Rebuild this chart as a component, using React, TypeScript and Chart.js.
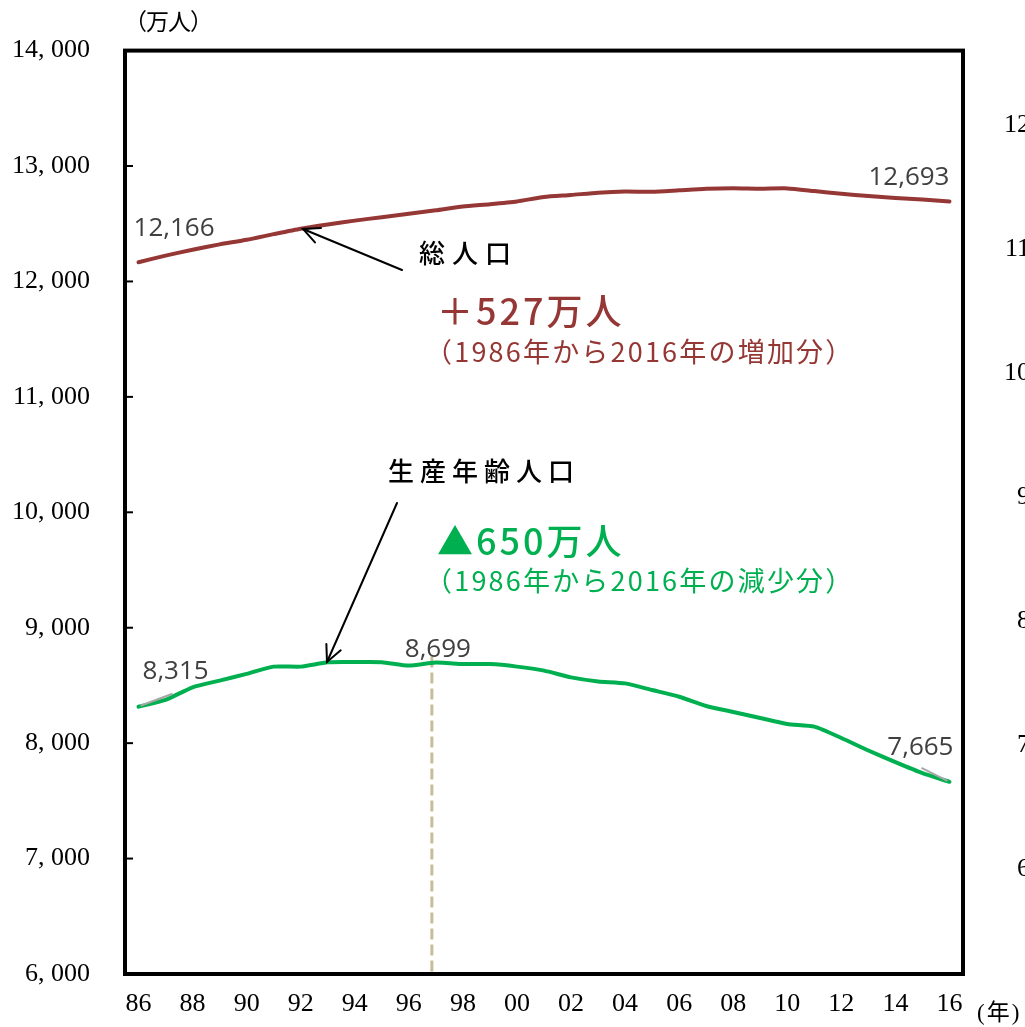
import React, { useEffect, useRef } from "react";
import { Chart, registerables } from "chart.js";

Chart.register(...registerables);

// ---- data ----
const years = [
  "1986", "1987", "1988", "1989", "1990", "1991", "1992", "1993", "1994", "1995",
  "1996", "1997", "1998", "1999", "2000", "2001", "2002", "2003", "2004", "2005",
  "2006", "2007", "2008", "2009", "2010", "2011", "2012", "2013", "2014", "2015", "2016",
];
const xTickLabels = [
  "86", "", "88", "", "90", "", "92", "", "94", "", "96", "", "98", "", "00", "",
  "02", "", "04", "", "06", "", "08", "", "10", "", "12", "", "14", "", "16",
];
const totalPopulation = [
  12166, 12224, 12275, 12321, 12361, 12410, 12457, 12494, 12527, 12557,
  12586, 12616, 12649, 12669, 12693, 12732, 12749, 12769, 12779, 12777,
  12790, 12803, 12808, 12803, 12806, 12783, 12759, 12741, 12724, 12709, 12693,
];
const workingAgePopulation = [
  8315, 8375, 8484, 8542, 8600, 8663, 8663, 8700, 8702, 8701,
  8672, 8699, 8685, 8685, 8663, 8628, 8570, 8535, 8518, 8460,
  8402, 8322, 8270, 8218, 8166, 8143, 8045, 7936, 7835, 7740, 7665,
];
const yTicksMin = 6000;
const yTicksMax = 14000;
const yTickStep = 1000;
const rightCutLabels = ["12, 000", "11, 000", "10, 000", "9, 000", "8, 000", "7, 000", "6, 000"];

const RED = "#953735";
const GREEN = "#00B050";
const SERIF = '"Liberation Serif", "Noto Sans CJK JP", serif';
const CJK = '"Noto Sans CJK JP", "Noto Sans", sans-serif';
const LABELFONT = '"Open Sans", "Noto Sans", sans-serif';

const fmtAxis = (v: number) => {
  const s = Math.round(v).toLocaleString("en-US");
  return s.replace(",", ", ");
};
const fmtData = (v: number) => Math.round(v).toLocaleString("en-US");

function arrow(ctx: CanvasRenderingContext2D, x1: number, y1: number, x2: number, y2: number) {
  ctx.save();
  ctx.strokeStyle = "#000";
  ctx.lineWidth = 2;
  ctx.lineCap = "round";
  ctx.beginPath();
  ctx.moveTo(x1, y1);
  ctx.lineTo(x2, y2);
  ctx.stroke();
  const ang = Math.atan2(y1 - y2, x1 - x2);
  const len = 18;
  const spread = 0.45;
  ctx.beginPath();
  ctx.moveTo(x2 + len * Math.cos(ang + spread), y2 + len * Math.sin(ang + spread));
  ctx.lineTo(x2, y2);
  ctx.lineTo(x2 + len * Math.cos(ang - spread), y2 + len * Math.sin(ang - spread));
  ctx.stroke();
  ctx.restore();
}

function text(
  ctx: CanvasRenderingContext2D,
  s: string,
  x: number,
  y: number,
  font: string,
  color: string,
  align: CanvasTextAlign = "left",
  spacing = 0
) {
  ctx.save();
  ctx.font = font;
  ctx.fillStyle = color;
  ctx.textAlign = align;
  ctx.textBaseline = "middle";
  (ctx as any).letterSpacing = spacing + "px";
  ctx.fillText(s, x, y);
  ctx.restore();
}

const decorPlugin = {
  id: "decor",
  beforeDatasetsDraw(chart: any) {
    const { ctx, chartArea, scales } = chart;
    const idx = 11; // 1997 peak
    const x = scales.x.getPixelForValue(idx) - 4;
    const y = scales.y.getPixelForValue(workingAgePopulation[idx]);
    ctx.save();
    ctx.strokeStyle = "#C9BD97";
    ctx.lineWidth = 3;
    ctx.setLineDash([11, 5]);
    ctx.beginPath();
    ctx.moveTo(x, y - 6);
    ctx.lineTo(x, chartArea.bottom);
    ctx.stroke();
    ctx.restore();
  },
  afterDatasetsDraw(chart: any) {
    const { ctx, chartArea, scales } = chart;
    const xs = scales.x;
    const ys = scales.y;

    // frame
    ctx.save();
    ctx.strokeStyle = "#000";
    ctx.lineWidth = 4;
    ctx.strokeRect(chartArea.left, chartArea.top, chartArea.right - chartArea.left, chartArea.bottom - chartArea.top);
    // inward y ticks
    ctx.lineWidth = 2;
    ys.ticks.forEach((t: any) => {
      const py = ys.getPixelForValue(t.value);
      ctx.beginPath();
      ctx.moveTo(chartArea.left, py);
      ctx.lineTo(chartArea.left + 8, py);
      ctx.stroke();
    });
    ctx.restore();

    // leader lines
    ctx.save();
    ctx.strokeStyle = "#A6A6A6";
    ctx.lineWidth = 2;
    const p0x = xs.getPixelForValue(0);
    const p0y = ys.getPixelForValue(workingAgePopulation[0]);
    ctx.beginPath();
    ctx.moveTo(p0x + 2, p0y - 1);
    ctx.lineTo(p0x + 34, p0y - 13);
    ctx.stroke();
    const pnx = xs.getPixelForValue(30);
    const pny = ys.getPixelForValue(workingAgePopulation[30]);
    ctx.beginPath();
    ctx.moveTo(pnx - 2, pny - 1);
    ctx.lineTo(pnx - 28, pny - 14);
    ctx.stroke();
    ctx.restore();

    // data labels
    const lf = "26px " + LABELFONT;
    const lc = "#404040";
    text(ctx, fmtData(totalPopulation[0]), xs.getPixelForValue(0) - 5, ys.getPixelForValue(totalPopulation[0]) - 34, lf, lc, "left");
    text(ctx, fmtData(totalPopulation[30]), xs.getPixelForValue(30), ys.getPixelForValue(totalPopulation[30]) - 24, lf, lc, "right");
    text(ctx, fmtData(workingAgePopulation[0]), xs.getPixelForValue(0) + 4, ys.getPixelForValue(workingAgePopulation[0]) - 35, lf, lc, "left");
    text(ctx, fmtData(workingAgePopulation[11]), xs.getPixelForValue(11) + 2, ys.getPixelForValue(workingAgePopulation[11]) - 13, lf, lc, "center");
    text(ctx, fmtData(workingAgePopulation[30]), xs.getPixelForValue(30) + 4, ys.getPixelForValue(workingAgePopulation[30]) - 34, lf, lc, "right");

    // annotations
    arrow(ctx, 402, 270, 303, 229);
    arrow(ctx, 397, 503, 327, 662);
    text(ctx, "総人口", 419, 253, "500 26px " + CJK, "#000", "left", 7);
    text(ctx, "＋527万人", 437, 311, "500 36px " + CJK, RED, "left", 3);
    text(ctx, "（1986年から2016年の増加分）", 425, 352, "27px " + CJK, RED, "left", 2.2);
    text(ctx, "生産年齢人口", 388, 471, "500 26px " + CJK, "#000", "left", 6);
    text(ctx, "▲650万人", 437, 541, "500 36px " + CJK, GREEN, "left", 3);
    text(ctx, "（1986年から2016年の減少分）", 425, 581, "27px " + CJK, GREEN, "left", 2.2);

    // units
    text(ctx, "（万人）", 124, 21, "23px " + CJK, "#000", "left", -1);
    text(ctx, "(年)", 977, 1014, "23px " + SERIF, "#000", "left", 2);

    // cut-off labels of the neighbouring chart
    rightCutLabels.forEach((s, i) => {
      text(ctx, s, 1082, 125 + i * 124, "26px " + SERIF, "#000", "right", 0);
    });
  },
};

export default function App() {
  const ref = useRef<HTMLCanvasElement>(null);
  useEffect(() => {
    if (!ref.current) return;
    const chart = new Chart(ref.current, {
      type: "line",
      data: {
        labels: years,
        datasets: [
          {
            label: "総人口",
            data: totalPopulation,
            borderColor: RED,
            borderWidth: 4,
            pointRadius: 0,
            tension: 0.2,
            borderCapStyle: "round",
          },
          {
            label: "生産年齢人口",
            data: workingAgePopulation,
            borderColor: GREEN,
            borderWidth: 4,
            pointRadius: 0,
            tension: 0.2,
            borderCapStyle: "round",
          },
        ],
      },
      options: {
        animation: false,
        responsive: false,
        maintainAspectRatio: false,
        devicePixelRatio: 1,
        layout: { padding: { top: 49, right: 62, bottom: 0, left: 0 } },
        plugins: { legend: { display: false }, tooltip: { enabled: false } },
        scales: {
          x: {
            type: "category",
            offset: true,
            grid: { display: false, drawTicks: false },
            border: { display: false },
            ticks: {
              autoSkip: false,
              maxRotation: 0,
              minRotation: 0,
              padding: 15,
              color: "#000",
              font: { family: SERIF, size: 26 },
              callback: (_v: any, i: number) => xTickLabels[i],
            },
            afterFit: (s: any) => {
              s.height = 53;
            },
          },
          y: {
            min: yTicksMin,
            max: yTicksMax,
            grid: { display: false, drawTicks: false },
            border: { display: false },
            ticks: {
              stepSize: yTickStep,
              padding: 35,
              color: "#000",
              font: { family: SERIF, size: 26 },
              callback: (v: any) => fmtAxis(Number(v)),
            },
            afterFit: (s: any) => {
              s.width = 125;
            },
          },
        },
      },
      plugins: [decorPlugin],
    });
    return () => chart.destroy();
  }, []);
  return (
    <div style={{ position: "fixed", left: 0, top: 0, width: 1025, height: 1027, background: "#fff" }}>
      <canvas ref={ref} width={1025} height={1027} style={{ display: "block" }} />
    </div>
  );
}
